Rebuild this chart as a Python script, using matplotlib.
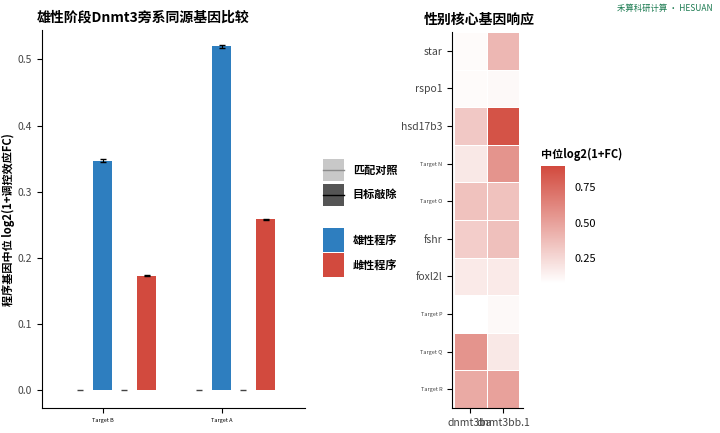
import numpy as np
import matplotlib.pyplot as plt
from matplotlib.patches import Rectangle
from matplotlib.lines import Line2D
from matplotlib.colors import LinearSegmentedColormap

plt.rcParams['font.family'] = ['Noto Sans CJK SC', 'DejaVu Sans']

# bar chart data
targets = ["Target B", "Target A"]
male_vals = [0.347, 0.520]
female_vals = [0.173, 0.258]
ctrl_vals = [0.0, 0.0]
male_err = [0.002, 0.002]
female_err = [0.001, 0.001]

# heatmap data
genes = ["star", "rspo1", "hsd17b3", "Target N", "Target O", "fshr", "foxl2l",
         "Target P", "Target Q", "Target R"]
cols = ["dnmt3ba", "dnmt3bb.1"]
heat = np.array([
    [0.09, 0.40],
    [0.09, 0.10],
    [0.32, 0.86],
    [0.18, 0.56],
    [0.35, 0.35],
    [0.30, 0.36],
    [0.17, 0.17],
    [0.07, 0.10],
    [0.56, 0.18],
    [0.46, 0.50],
])

blue = "#2e7ebf"
red = "#d24a3e"

fig = plt.figure(figsize=(7.2, 4.33), dpi=100)

# ---- bar panel
ax = fig.add_axes([0.058, 0.058, 0.366, 0.872])
x = np.arange(len(targets))
w = 0.16
ax.bar(x, male_vals, w, color=blue, yerr=male_err, capsize=2.5,
       error_kw=dict(lw=0.8, ecolor="black"))
ax.bar(x + 0.37, female_vals, w, color=red, yerr=female_err, capsize=2.5,
       error_kw=dict(lw=0.8, ecolor="black"))
for off in (-0.19, 0.18):
    ax.plot(x + off, ctrl_vals, ls="none", marker="_", ms=4, color="#444444", mew=1)
ax.set_xticks(x)
ax.set_xticklabels(targets, fontsize=4)
ax.set_xlim(-0.51, 1.70)
ax.set_ylim(-0.027, 0.544)
ax.set_yticks([0, 0.1, 0.2, 0.3, 0.4, 0.5])
ax.set_yticklabels(["0.0", "0.1", "0.2", "0.3", "0.4", "0.5"], fontsize=7.5, color="#444444")
ax.set_ylabel("程序基因中位 log2(1+调控效应FC)", fontsize=8, fontweight="bold", labelpad=2)
ax.spines[["top", "right"]].set_visible(False)
ax.set_title("雄性阶段Dnmt3旁系同源基因比较", fontsize=10, fontweight="bold", loc="left", x=-0.02)

# ---- legend (manual)
lx = 0.448
for yy, fc, lc, lab in [(0.582, "#c8c8c8", "#8a8a8a", "匹配对照"),
                        (0.525, "#555555", "black", "目标敲除")]:
    fig.patches.append(Rectangle((lx, yy), 0.03, 0.05, transform=fig.transFigure,
                                 facecolor=fc, edgecolor="none"))
    fig.lines.append(Line2D([lx, lx + 0.03], [yy + 0.025] * 2, transform=fig.transFigure,
                            color=lc, lw=1))
    fig.text(lx + 0.042, yy + 0.025, lab, fontsize=8, va="center", fontweight="bold")
for yy, fc, lab in [(0.419, blue, "雄性程序"), (0.361, red, "雌性程序")]:
    fig.patches.append(Rectangle((lx, yy), 0.03, 0.055, transform=fig.transFigure,
                                 facecolor=fc, edgecolor="none"))
    fig.text(lx + 0.042, yy + 0.027, lab, fontsize=8, va="center", fontweight="bold")

# ---- heatmap
hx = fig.add_axes([0.628, 0.058, 0.098, 0.868])
cmap = LinearSegmentedColormap.from_list("wr", ["#ffffff", "#d24a3e"])
im = hx.pcolormesh(np.arange(3), np.arange(len(genes) + 1), heat, cmap=cmap,
                   vmin=0.07, vmax=0.9, edgecolor="white", lw=0.5)
hx.set_ylim(len(genes), 0)
hx.set_xlim(-0.05, 2.1)
hx.set_yticks(np.arange(len(genes)) + 0.5)
hx.set_yticklabels(genes, color="#444444")
for t, g in zip(hx.get_yticklabels(), genes):
    t.set_fontsize(4 if g.startswith("Target") else 7.5)
hx.set_xticks([0.5, 1.5])
hx.set_xticklabels(cols, fontsize=7.5, color="#444444")
hx.spines[["top", "right"]].set_visible(False)
hx.set_title("性别核心基因响应", fontsize=10, fontweight="bold", loc="left", x=-0.4)

cax = fig.add_axes([0.751, 0.346, 0.034, 0.27])
cb = fig.colorbar(im, cax=cax)
cb.set_ticks([0.25, 0.5, 0.75])
cb.ax.tick_params(labelsize=8, length=3, color="white")
cb.outline.set_visible(False)
cax.set_title("中位log2(1+FC)", fontsize=8, loc="left", pad=6, fontweight="bold")

fig.text(0.99, 0.975, "禾算科研计算 · HESUAN", fontsize=6, color="#1a7a50", ha="right")

fig.savefig("out.png", dpi=100)
